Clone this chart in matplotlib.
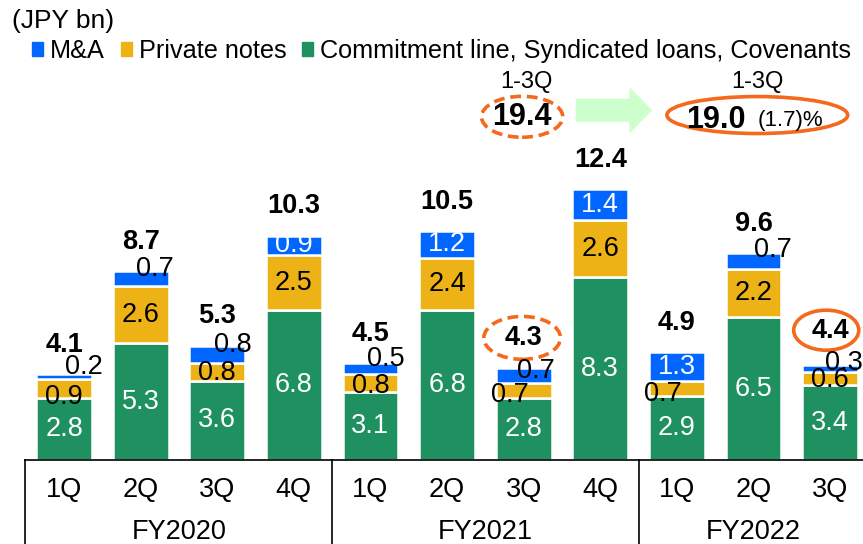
import matplotlib as mpl
mpl.use('agg')
mpl.rcParams['font.family'] = ['Liberation Sans', 'DejaVu Sans']

import matplotlib.pyplot as plt
from matplotlib.patches import Ellipse, FancyArrow, Patch
import numpy as np

quarters = ['1Q', '2Q', '3Q', '4Q', '1Q', '2Q', '3Q', '4Q', '1Q', '2Q', '3Q']
years = ['FY2020', 'FY2021', 'FY2022']
year_sizes = [4, 4, 3]
commitment = [2.8, 5.3, 3.6, 6.8, 3.1, 6.8, 2.8, 8.3, 2.9, 6.5, 3.4]
private_notes = [0.9, 2.6, 0.8, 2.5, 0.8, 2.4, 0.7, 2.6, 0.7, 2.2, 0.6]
ma = [0.2, 0.7, 0.8, 0.9, 0.5, 1.2, 0.7, 1.4, 1.3, 0.7, 0.3]
totals = [4.1, 8.7, 5.3, 10.3, 4.5, 10.5, 4.3, 12.4, 4.9, 9.6, 4.4]
ytd_fy2021 = 19.4
ytd_fy2022 = 19.0
ytd_change = '(1.7)%'

GREEN = '#1F9160'
YELLOW = '#EDB316'
BLUE = '#0066FF'
ORANGE = '#F5691C'
ARROW = '#CCFFCC'

# label nudges (points) for the small segments
ma_nudge = [(14, 7), (10, 7), (11, 7), (0, 0), (11, 7), (0, 0),
            (9, 3), (0, 0), (0, 0), (14, 8), (10, 4)]
pn_nudge = [(0, -6), (0, 0), (0, -1), (0, 0), (0, -2), (0, 0),
            (-10, -3), (0, 0), (-10, -4), (0, 0), (0, -1)]


def main():
    fig = plt.figure(figsize=(8.63, 5.44), dpi=100)
    ax = fig.add_axes([25 / 863, 84 / 544, 838 / 863, 418 / 544])
    x = np.arange(len(quarters))
    w = 0.73
    g = np.array(commitment)
    p = np.array(private_notes)
    m = np.array(ma)

    ax.bar(x, g, w, color=GREEN, edgecolor='white', linewidth=1.8)
    ax.bar(x, p, w, bottom=g, color=YELLOW, edgecolor='white', linewidth=1.8)
    ax.bar(x, m, w, bottom=g + p, color=BLUE, edgecolor='white', linewidth=1.8)

    fs = 19.5
    for i in x:
        ax.text(i, g[i] / 2, f'{g[i]:.1f}', ha='center', va='center', color='white', fontsize=fs)
        ax.annotate(f'{p[i]:.1f}', (i, g[i] + p[i] / 2), xytext=pn_nudge[i], textcoords='offset points',
                    ha='center', va='center', color='black', fontsize=fs)
        if m[i] >= 0.9:
            ax.text(i, g[i] + p[i] + m[i] / 2, f'{m[i]:.1f}', ha='center', va='center', color='white', fontsize=fs)
        else:
            ax.annotate(f'{m[i]:.1f}', (i, g[i] + p[i] + m[i] / 2), xytext=ma_nudge[i], textcoords='offset points',
                        ha='center', va='center', color='black', fontsize=fs)
        top = g[i] + p[i] + m[i]
        off = 25 if i == 10 else 21
        ax.annotate(f'{totals[i]:.1f}', (i, top), xytext=(0, off), textcoords='offset points',
                    ha='center', va='center', fontsize=fs, fontweight='bold')

    # circles around FY2021 3Q and FY2022 3Q totals
    t6 = g[6] + p[6] + m[6] + 1.35
    t10 = g[10] + p[10] + m[10] + 1.6
    ax.add_patch(Ellipse((5.98, t6), 1.0, 1.95, fill=False, edgecolor=ORANGE, lw=2.6,
                         linestyle=(0, (3, 1.6)), clip_on=False))
    ax.add_patch(Ellipse((9.95, t10), 0.85, 1.82, fill=False, edgecolor=ORANGE, lw=2.6, clip_on=False))

    # 1-3Q comparison
    ax.text(6.04, 17.2, '1-3Q', ha='center', va='center', fontsize=17)
    ax.text(5.98, 15.6, f'{ytd_fy2021:.1f}', ha='center', va='center', fontsize=22, fontweight='bold')
    ax.add_patch(Ellipse((5.98, 15.6), 1.06, 1.86, fill=False, edgecolor=ORANGE, lw=2.6,
                         linestyle=(0, (3, 1.6)), clip_on=False))
    ax.add_patch(FancyArrow(6.68, 15.9, 1.0, 0, width=1.05, head_width=2.1, head_length=0.3,
                            length_includes_head=True, color=ARROW, lw=0, clip_on=False))
    ax.text(9.05, 17.2, '1-3Q', ha='center', va='center', fontsize=17)
    ax.text(8.51, 15.1, f'{ytd_fy2022:.1f}', ha='center', va='baseline', fontsize=22, fontweight='bold')
    ax.text(9.06, 15.2, ytd_change, ha='left', va='baseline', fontsize=16)
    ax.add_patch(Ellipse((9.05, 15.68), 2.36, 1.68, fill=False, edgecolor=ORANGE, lw=2.6, clip_on=False))

    ax.set_xlim(-0.51, 10.43)
    ax.set_ylim(0, 19)
    for s in ['left', 'right', 'top']:
        ax.spines[s].set_visible(False)
    ax.spines['bottom'].set_linewidth(1.2)
    ax.set_yticks([])
    ax.set_xticks([])

    # quarter and year labels
    trans = ax.get_xaxis_transform()
    for i, q in enumerate(quarters):
        ax.text(i, -0.072, q, transform=trans, ha='center', va='center', fontsize=19.5)
    edges = [-0.51]
    start = 0
    for yr, n in zip(years, year_sizes):
        ax.text(start + (n - 1) / 2, -0.173, yr, transform=trans, ha='center', va='center', fontsize=19.5)
        start += n
        edges.append(start - 0.5)
    for e in edges[:-1]:
        ax.plot([e, e], [0, -0.21], transform=trans, color='black', lw=1.2, clip_on=False)

    fig.text(12 / 863, 1 - 21 / 544, '(JPY bn)', ha='left', va='center', fontsize=19)
    handles = [Patch(color=BLUE), Patch(color=YELLOW), Patch(color=GREEN)]
    labels = ['M&A', 'Private notes', 'Commitment line, Syndicated loans, Covenants']
    fig.legend(handles, labels, loc='center left', bbox_to_anchor=(32 / 863, 1 - 51 / 544), ncol=3,
               frameon=False, fontsize=18.2, handlelength=0.44, handleheight=0.44, handletextpad=0.28,
               columnspacing=0.62, borderpad=0, borderaxespad=0)

    fig.savefig('out.png', dpi=100)


if __name__ == '__main__':
    main()
